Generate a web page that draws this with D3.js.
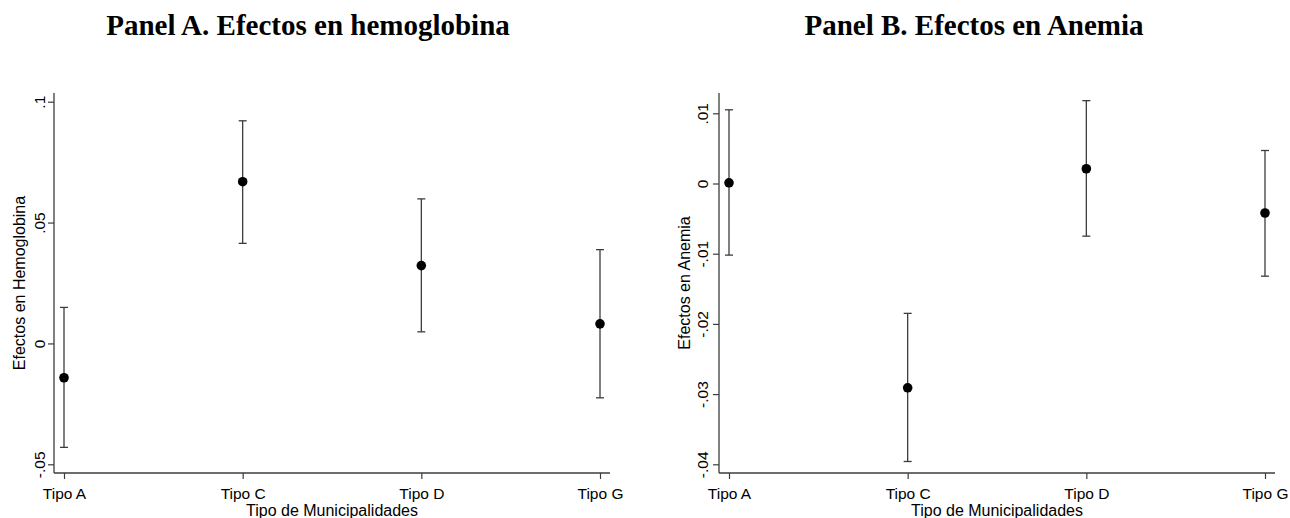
<!DOCTYPE html>
<html>
<head>
<meta charset="utf-8">
<script src="https://cdn.jsdelivr.net/npm/d3@7"></script>
<style>
  html, body { margin: 0; padding: 0; background: #fff; }
  svg { display: block; }
  .title { font-family: "Liberation Serif", "Times New Roman", serif; font-weight: bold; font-size: 29px; fill: #000; }
  .tick-label, .axis-title { font-family: "Liberation Sans", Arial, Helvetica, sans-serif; fill: #000; }
  .tick-label { font-size: 15.5px; }
  .axis-title { font-size: 16px; }
</style>
</head>
<body>
<svg id="chart" width="1290" height="518"></svg>
<script>
// Municipality types on the horizontal axis (shared by both panels)
const categories = ["Tipo A", "Tipo C", "Tipo D", "Tipo G"];

// Panel A: effects on hemoglobin (point estimate and 95% CI)
const hemoEstimate = [-0.0142, 0.0669, 0.0322, 0.0081];
const hemoLower    = [-0.0430, 0.0414, 0.0048, -0.0225];
const hemoUpper    = [0.0149, 0.0921, 0.0598, 0.0388];
const hemoTicks    = [-0.05, 0, 0.05, 0.1];
const hemoTickText = ["-.05", "0", ".05", ".1"];

// Panel B: effects on anemia (point estimate and 95% CI)
const anemiaEstimate = [0.0001, -0.0291, 0.0021, -0.0042];
const anemiaLower    = [-0.0102, -0.0396, -0.0075, -0.0132];
const anemiaUpper    = [0.0105, -0.0185, 0.0118, 0.0047];
const anemiaTicks    = [-0.04, -0.03, -0.02, -0.01, 0, 0.01];
const anemiaTickText = ["-.04", "-.03", "-.02", "-.01", "0", ".01"];

const svg = d3.select("#chart");
const axisColor = "#3c3c3c";

function drawPanel(cfg) {
  const g = svg.append("g");

  // Panel heading
  g.append("text")
    .attr("class", "title")
    .attr("x", cfg.titleX).attr("y", 35)
    .attr("text-anchor", "middle")
    .text(cfg.title);

  const x = d3.scalePoint().domain(categories).range([cfg.x0 + 10, cfg.x1 - 10]);
  const y = d3.scaleLinear().domain([cfg.ticks[0], cfg.ticks[cfg.ticks.length - 1]])
    .range([cfg.yBottomTick, cfg.yTopTick]);

  const axisTop = 93, axisBottom = 473;

  // Y axis (ticks with labels rotated along the axis)
  const yAxis = d3.axisLeft(y).tickValues(cfg.ticks).tickSize(6)
    .tickFormat((d, i) => cfg.tickText[i]);
  const yg = g.append("g").attr("transform", `translate(${cfg.x0},0)`).call(yAxis);
  yg.select(".domain").remove();
  yg.selectAll(".tick line").attr("stroke", axisColor).attr("stroke-width", 1.2);
  yg.selectAll(".tick text")
    .attr("class", "tick-label")
    .attr("x", 0).attr("y", -cfg.tickLabelOffset).attr("dy", null)
    .attr("transform", "rotate(-90)")
    .attr("text-anchor", "middle")
    .attr("font-size", null).attr("font-family", null).attr("fill", null);
  g.append("line")
    .attr("x1", cfg.x0).attr("x2", cfg.x0)
    .attr("y1", axisTop).attr("y2", axisBottom)
    .attr("stroke", axisColor).attr("stroke-width", 1.3);

  // X axis
  const xAxis = d3.axisBottom(x).tickSize(6).tickPadding(4);
  const xg = g.append("g").attr("transform", `translate(0,${axisBottom})`).call(xAxis);
  xg.select(".domain").remove();
  xg.selectAll(".tick line").attr("stroke", axisColor).attr("stroke-width", 1.2);
  xg.selectAll(".tick text")
    .attr("class", "tick-label")
    .attr("y", 25.5).attr("dy", null)
    .attr("font-size", null).attr("font-family", null).attr("fill", null);
  g.append("line")
    .attr("x1", cfg.x0).attr("x2", cfg.x1)
    .attr("y1", axisBottom).attr("y2", axisBottom)
    .attr("stroke", axisColor).attr("stroke-width", 1.3);

  // Axis titles
  g.append("text")
    .attr("class", "axis-title")
    .attr("x", (cfg.x0 + cfg.x1) / 2).attr("y", 515.5)
    .attr("text-anchor", "middle")
    .text("Tipo de Municipalidades");
  g.append("text")
    .attr("class", "axis-title")
    .attr("transform", `translate(${cfg.x0 - 29},${(axisTop + axisBottom) / 2}) rotate(-90)`)
    .attr("text-anchor", "middle")
    .text(cfg.yTitle);

  // Confidence intervals with caps
  const rows = categories.map((c, i) => ({ c, est: cfg.est[i], lo: cfg.lo[i], hi: cfg.hi[i] }));
  const bars = g.append("g").selectAll("g").data(rows).join("g")
    .attr("stroke", axisColor).attr("stroke-width", 1.3);
  bars.append("line")
    .attr("x1", d => x(d.c)).attr("x2", d => x(d.c))
    .attr("y1", d => y(d.lo)).attr("y2", d => y(d.hi));
  bars.append("line")
    .attr("x1", d => x(d.c) - 4).attr("x2", d => x(d.c) + 4)
    .attr("y1", d => y(d.hi)).attr("y2", d => y(d.hi));
  bars.append("line")
    .attr("x1", d => x(d.c) - 4).attr("x2", d => x(d.c) + 4)
    .attr("y1", d => y(d.lo)).attr("y2", d => y(d.lo));

  // Point estimates
  g.append("g").selectAll("circle").data(rows).join("circle")
    .attr("cx", d => x(d.c)).attr("cy", d => y(d.est))
    .attr("r", 4.8).attr("fill", "#000");
}

drawPanel({
  title: "Panel A. Efectos en hemoglobina", titleX: 308,
  yTitle: "Efectos en Hemoglobina",
  x0: 54, x1: 610, yTopTick: 101.7, yBottomTick: 464.3, tickLabelOffset: 9,
  ticks: hemoTicks, tickText: hemoTickText,
  est: hemoEstimate, lo: hemoLower, hi: hemoUpper
});

drawPanel({
  title: "Panel B. Efectos en Anemia", titleX: 974,
  yTitle: "Efectos en Anemia",
  x0: 719, x1: 1275, yTopTick: 113.3, yBottomTick: 464.3, tickLabelOffset: 11,
  ticks: anemiaTicks, tickText: anemiaTickText,
  est: anemiaEstimate, lo: anemiaLower, hi: anemiaUpper
});
</script>
</body>
</html>
